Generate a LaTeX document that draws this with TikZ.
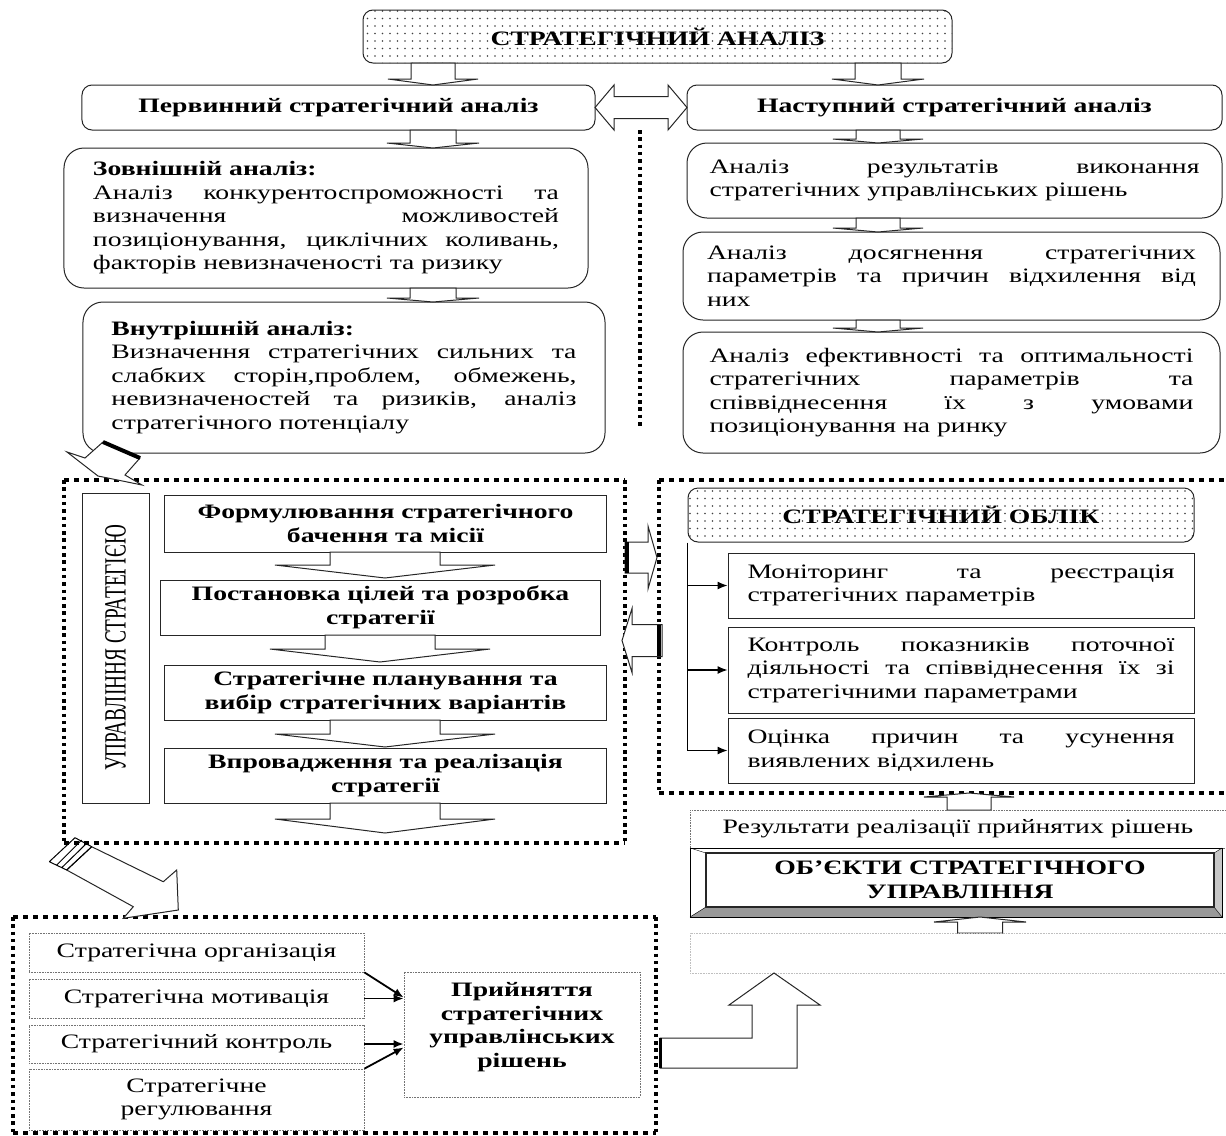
\documentclass[tikz,border=0pt]{standalone}
\usepackage{fontspec}
\usepackage{graphicx}
\setmainfont{Liberation Serif}[FakeStretch=1.35]
\newfontfamily\uprfont{Liberation Serif}
\usetikzlibrary{arrows.meta,patterns.meta}

\newcommand{\txtsize}{\fontsize{20.5bp}{23.5bp}\selectfont}
% tail point, angle, length, shaft half width, head half width, head length
\newcommand{\blockarrow}[6]{%
  \draw[blockarr, shift={(#1)}, rotate=#2] (0,-#4) -- (#3-#6,-#4) -- (#3-#6,-#5) -- (#3,0)
    -- (#3-#6,#5) -- (#3-#6,#4) -- (0,#4) -- cycle;}

\tikzset{
  box/.style={draw=black!85, line width=1bp, inner sep=0pt, fill=white},
  rbox/.style={box, rounded corners=20bp},
  jbox/.style={rbox, align=justify},
  headbox/.style={box, rounded corners=10bp, font=\txtsize\bfseries},
  dotsbox/.style={draw=black!85, line width=1bp, inner sep=0pt, rounded corners=10bp,
    pattern={Dots[distance=7.5bp, radius=0.9bp]}, pattern color=black!75, font=\txtsize\bfseries},
  fbox/.style={box, font=\txtsize\bfseries, align=center, minimum width=441bp, minimum height=56bp},
  mbox/.style={box, align=justify, text width=427bp, minimum width=466bp},
  thinbox/.style={draw=black!55, dash pattern=on 0.8bp off 0.8bp, line width=0.7bp, inner sep=0pt},
  blockarr/.style={draw=black!85, line width=1bp, fill=white},
  hatch/.style={line width=4bp},
  hdots/.style={line width=3.5bp, dash pattern=on 5bp off 5bp},
  vdots/.style={line width=4.5bp, dash pattern=on 3.5bp off 3.8bp}
}

\begin{document}
\begin{tikzpicture}[x=1bp, y=-1bp, font=\txtsize, >={Latex[length=10bp,width=8bp]}]
\useasboundingbox (0,0) rectangle (1226,1136);

% analysis
\node (sa) at (657.5,36.5) [dotsbox, minimum width=589bp, minimum height=53bp] {СТРАТЕГІЧНИЙ АНАЛІЗ};
\node (prim) at (338.5,107.5) [headbox, minimum width=513bp, minimum height=45bp] {Первинний стратегічний аналіз};
\node (next) at (954.5,107.5) [headbox, minimum width=535bp, minimum height=45bp] {Наступний стратегічний аналіз};
\blockarrow{433,63}{-90}{22}{22}{45}{6}
\blockarrow{878,63}{-90}{22}{23}{46}{6}
\draw[blockarr] (595,107.5) -- (614,85) -- (614,96.5) -- (668,96.5) -- (668,85) -- (687,107.5)
  -- (668,130) -- (668,118.5) -- (614,118.5) -- (614,130) -- cycle;
\draw[vdots] (640,130) -- (640,428);

\node (ext) at (326,218) [jbox, text width=466bp, minimum width=524bp, minimum height=140bp]
  {\textbf{Зовнішній аналіз:}\\ Аналіз конкурентоспроможності та\linebreak визначення можливостей\linebreak позиціонування, циклічних коливань,\linebreak факторів невизначеності та ризику};
\node (int) at (344,377.5) [jbox, text width=465bp, minimum width=522bp, minimum height=151bp]
  {\textbf{Внутрішній аналіз:}\\ Визначення стратегічних сильних та\linebreak слабких сторін,проблем, обмежень,\linebreak невизначеностей та ризиків, аналіз\linebreak стратегічного потенціалу};
\blockarrow{433,130}{-90}{18}{23}{46}{5}
\blockarrow{433,288}{-90}{14}{23}{46}{4}

\node (r1) at (954.5,180.5) [jbox, text width=490bp, minimum width=535bp, minimum height=75bp]
  {Аналіз результатів виконання\linebreak стратегічних управлінських рішень};
\node (r2) at (951.5,276) [jbox, text width=489bp, minimum width=537bp, minimum height=88bp]
  {Аналіз досягнення стратегічних\linebreak параметрів та причин відхилення від\linebreak них};
\node (r3) at (951.5,392.5) [jbox, text width=484bp, minimum width=537bp, minimum height=121bp]
  {Аналіз ефективності та оптимальності\linebreak стратегічних параметрів та\linebreak співвіднесення їх з умовами\linebreak позиціонування на ринку};
\blockarrow{878,130}{-90}{13}{22}{45}{4}
\blockarrow{878,218}{-90}{14}{22}{45}{4}
\blockarrow{878,320}{-90}{12}{22}{45}{4}

% management frame
\draw[hdots] (64,480) -- (625,480) (64,843) -- (625,843);
\draw[vdots] (64,480) -- (64,843) (625,480) -- (625,843);
\draw[blockarr] (103,442) -- (85,458) -- (67,452) -- (98,476) -- (142,485) -- (125,475) -- (140,458) -- cycle;
\draw[hatch] (103,442) -- (140,458);

\node (upr) at (115.5,648) [box, rotate=90, minimum width=310bp, minimum height=67bp]
  {\uprfont\fontsize{19.3bp}{20bp}\selectfont\scalebox{1}[1.6]{УПРАВЛІННЯ СТРАТЕГІЄЮ}};
\node (f1) at (385.5,523.5) [fbox, minimum height=57bp] {Формулювання стратегічного\\ бачення та місії};
\node (f2) at (380.5,607.5) [fbox, minimum width=439bp, minimum height=55bp] {Постановка цілей та розробка\\ стратегії};
\node (f3) at (385.5,692.5) [fbox, minimum height=55bp] {Стратегічне планування та\\ вибір стратегічних варіантів};
\node (f4) at (385.5,775.5) [fbox, minimum height=55bp] {Впровадження та реалізація\\ стратегії};
\blockarrow{385,552}{-90}{26}{55}{110}{13}
\blockarrow{380,635}{-90}{27}{55}{110}{13}
\blockarrow{385,720}{-90}{27}{55}{110}{13}
\blockarrow{385,803}{-90}{30}{55}{110}{14}

% accounting frame
\draw[hdots] (659,480) -- (1226,480) (659,793) -- (1226,793);
\draw[vdots] (659,480) -- (659,793);
\blockarrow{625,557.5}{0}{32}{15.5}{31.5}{9}
\draw[hatch] (627,542) -- (627,573);
\blockarrow{662,640.5}{180}{40}{16}{32}{10}
\draw[hatch] (659,625) -- (659,656);

\node (ob) at (941,515) [dotsbox, minimum width=506bp, minimum height=54bp] {СТРАТЕГІЧНИЙ ОБЛІК};
\node (m1) at (961,585.5) [mbox, minimum height=65bp] {Моніторинг та реєстрація\linebreak стратегічних параметрів};
\node (m2) at (961,670) [mbox, minimum height=86bp] {Контроль показників поточної\linebreak діяльності та співвіднесення їх зі\linebreak стратегічними параметрами};
\node (m3) at (961,750.5) [mbox, minimum height=65bp] {Оцінка причин та усунення\linebreak виявлених відхилень};
\draw[line width=1.2bp] (ob.south west) -- (ob.south west |- m3.west);
\foreach \m in {m1,m2,m3}
  \draw[->, line width=1.2bp] (ob.south west |- \m.west) -- (\m.west);

% objects
\blockarrow{969,810}{90}{17}{22}{45}{4}
\node (res) at (958,829) [thinbox, minimum width=536bp, minimum height=38bp] {Результати реалізації прийнятих рішень};
\fill[black!40] (690,917) -- (1222,917) -- (1214,907) -- (706,907) -- cycle;
\fill[black!22] (1222,848) -- (1222,917) -- (1214,907) -- (1214,853) -- cycle;
\draw[line width=1bp] (690,848) rectangle (1222,917);
\draw (690,848) -- (706,853) (1222,848) -- (1214,853) (690,917) -- (706,907) (1222,917) -- (1214,907);
\node (obj) at (960,880) [box, line width=1.6bp, minimum width=508bp, minimum height=54bp, align=center, font=\txtsize\bfseries]
  {ОБ’ЄКТИ СТРАТЕГІЧНОГО\\ УПРАВЛІННЯ};
\blockarrow{980,933}{90}{16}{22.5}{46}{5}
\node (emp) at (958,953) [thinbox, draw=black!25, minimum width=536bp, minimum height=40bp] {};

% decisions frame
\draw[hdots] (13,917) -- (656,917) (13,1133) -- (656,1133);
\draw[vdots] (13,917) -- (13,1133) (656,917) -- (656,1133);
\draw[blockarr] (91.7,846.7) -- (163.3,881.7) -- (176.7,870) -- (178.3,910) -- (123.3,918.3) -- (133.3,906.7) -- (66.7,870) -- cycle;
\draw[line width=1bp] (91.7,846.7) -- (66.7,870) (86.7,843.3) -- (61.7,867.7) (81.7,840) -- (56.7,865)
  (75,837.7) -- (49.3,861.7) (75,837.7) -- (91.7,846.7) (49.3,861.7) -- (66.7,870);

\node (org) at (196.5,952.5) [thinbox, minimum width=335bp, minimum height=39bp] {Стратегічна організація};
\node (mot) at (196.5,998.5) [thinbox, minimum width=335bp, minimum height=39bp] {Стратегічна мотивація};
\node (ctl) at (196.5,1044) [thinbox, minimum width=335bp, minimum height=38bp] {Стратегічний контроль};
\node (reg) at (196.5,1099.5) [thinbox, minimum width=335bp, minimum height=61bp, align=center] {Стратегічне\\ регулювання};
\node (dec) at (522,1034.5) [thinbox, minimum width=236bp, minimum height=125bp] {};
\node (dectext) at (522,1027) [align=center, font=\txtsize\bfseries] {Прийняття\\ стратегічних\\ управлінських\\ рішень};
\draw[->, line width=1.8bp] (org.south east) -- ([yshift=37bp]dec.west);
\draw[->, line width=1.8bp] (mot.east) -- (dec.west |- mot.east);
\draw[->, line width=1.8bp] (ctl.east) -- (dec.west |- ctl.east);
\draw[->, line width=1.8bp] (reg.north east) -- ([yshift=-13bp]dec.west);

\draw[blockarr] (660,1038) -- (752,1038) -- (752,1005) -- (729,1005) -- (774,973) -- (820,1005)
  -- (797,1005) -- (797,1068) -- (660,1068) -- cycle;
\draw[hatch, line width=3bp] (660,1038) -- (660,1068);
\end{tikzpicture}
\end{document}
